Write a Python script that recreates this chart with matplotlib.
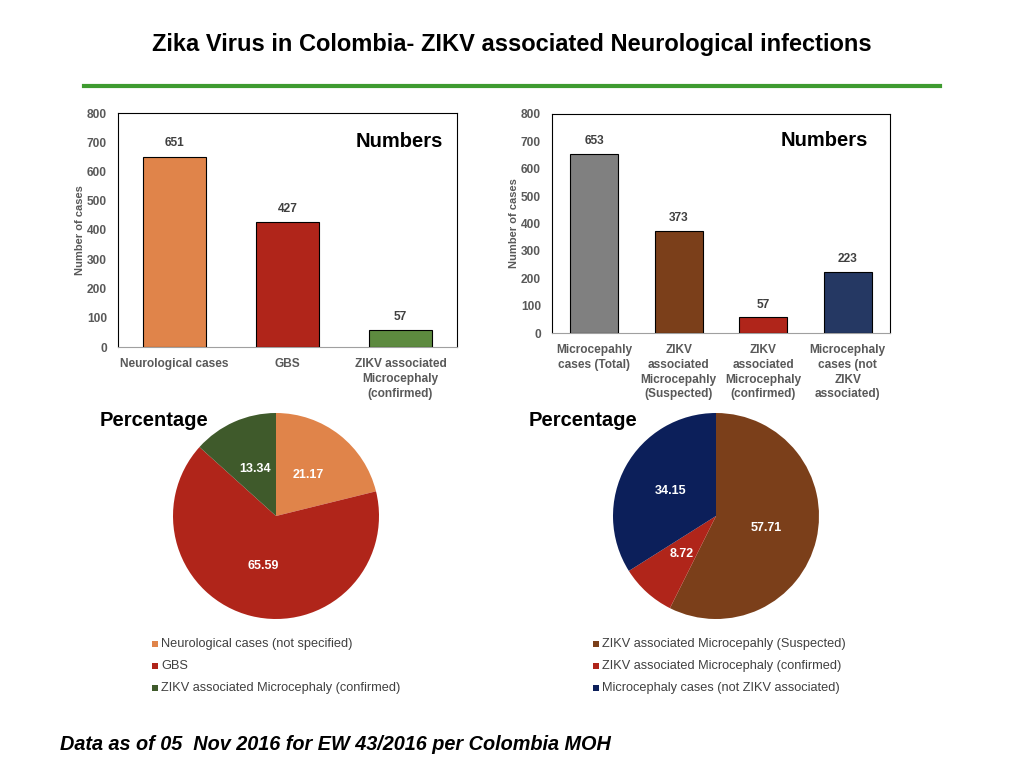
import matplotlib
matplotlib.use("Agg")
import matplotlib.pyplot as plt
from matplotlib.patches import Rectangle
from matplotlib.lines import Line2D

plt.rcParams['font.family'] = ['Liberation Sans', 'DejaVu Sans']

# ---- data ----
left_cats = ["Neurological cases", "GBS", "ZIKV associated\nMicrocephaly\n(confirmed)"]
left_vals = [651, 427, 57]
left_colors = ["#E0844A", "#B0251A", "#5D8A3F"]

right_cats = ["Microcepahly\ncases (Total)", "ZIKV\nassociated\nMicrocepahly\n(Suspected)",
              "ZIKV\nassociated\nMicrocephaly\n(confirmed)", "Microcephaly\ncases (not\nZIKV\nassociated)"]
right_vals = [653, 373, 57, 223]
right_colors = ["#808080", "#7B3F1A", "#B0251A", "#253863"]

left_pie_labels = ["Neurological cases (not specified)", "GBS", "ZIKV associated Microcephaly (confirmed)"]
left_pie_vals = [21.17, 65.59, 13.34]
left_pie_colors = ["#E0844A", "#B0251A", "#3F5A2B"]

right_pie_labels = ["ZIKV associated Microcepahly (Suspected)", "ZIKV associated Microcephaly (confirmed)",
                    "Microcephaly cases (not ZIKV associated)"]
right_pie_vals = [57.71, 8.72, 34.15]
right_pie_colors = ["#7B3F1A", "#B0251A", "#0C1F5A"]

yticks = [0, 100, 200, 300, 400, 500, 600, 700, 800]

W, H = 1024, 768
fig = plt.figure(figsize=(W / 100, H / 100), dpi=100)
fig.patch.set_facecolor("white")


def px_axes(x0, y0, x1, y1):
    return fig.add_axes([x0 / W, 1 - y1 / H, (x1 - x0) / W, (y1 - y0) / H])


GRAY = "#595959"


def bar_chart(ax, cats, vals, colors, width, num_x):
    x = list(range(len(cats)))
    ax.bar(x, vals, width=width, color=colors, edgecolor="black", linewidth=0.8, zorder=3)
    for xi, v in zip(x, vals):
        ax.text(xi, v + 25, str(v), ha="center", va="bottom", fontsize=8.6, fontweight="bold", color="#404040")
    ax.set_xlim(-0.5, len(cats) - 0.5)
    ax.set_ylim(0, 800)
    ax.set_yticks(yticks)
    ax.set_yticklabels([str(t) for t in yticks], fontsize=8.6, fontweight="bold", color=GRAY)
    ax.set_xticks(x)
    ax.set_xticklabels(cats, fontsize=8.6, fontweight="bold", color=GRAY, linespacing=1.3)
    ax.tick_params(axis="x", length=0, pad=8)
    ax.tick_params(axis="y", length=0, pad=8)
    ax.set_ylabel("Number of cases", fontsize=8, fontweight="bold", color=GRAY, labelpad=1)
    for s in ["top", "right", "left"]:
        ax.spines[s].set_color("black")
        ax.spines[s].set_linewidth(0.8)
    ax.spines["bottom"].set_color("#A0A0A0")
    ax.spines["bottom"].set_linewidth(0.8)
    ax.text(num_x, 0.88, "Numbers", transform=ax.transAxes, ha="right", va="center",
            fontsize=14.5, fontweight="bold", color="black")


ax1 = px_axes(118, 113, 457, 347)
bar_chart(ax1, left_cats, left_vals, left_colors, 0.565, 0.96)
ax2 = px_axes(552, 114, 890, 333)
bar_chart(ax2, right_cats, right_vals, right_colors, 0.57, 0.935)


def pie_chart(cx, cy, r, vals, colors):
    ax = px_axes(cx - r, cy - r, cx + r, cy + r)
    wedges, texts = ax.pie(vals, colors=colors, startangle=90, counterclock=False,
                           labels=[f"{v:.2f}" for v in vals], labeldistance=0.5,
                           textprops=dict(color="white", fontsize=9, fontweight="bold"),
                           wedgeprops=dict(linewidth=0))
    for t in texts:
        t.set_ha("center")
        t.set_va("center")
    ax.set_xlim(-1, 1)
    ax.set_ylim(-1, 1)
    ax.axis("off")
    return ax


pie_chart(276, 516, 103, left_pie_vals, left_pie_colors)
pie_chart(716, 516, 103, right_pie_vals, right_pie_colors)

# "Percentage" labels
fig.text(154 / W, 1 - 420 / H, "Percentage", ha="center", va="center", fontsize=14.5, fontweight="bold")
fig.text(583 / W, 1 - 420 / H, "Percentage", ha="center", va="center", fontsize=14.5, fontweight="bold")


def legend(x_sq, labels, colors):
    for i, (lab, col) in enumerate(zip(labels, colors)):
        y = 644 + 22 * i
        fig.patches.append(Rectangle(((x_sq - 3) / W, 1 - (y + 3) / H), 6 / W, 6 / H,
                                     transform=fig.transFigure, facecolor=col, edgecolor="none"))
        fig.text((x_sq + 6) / W, 1 - y / H, lab, ha="left", va="center", fontsize=9.2, color="#404040")


legend(155, left_pie_labels, left_pie_colors)
legend(596, right_pie_labels, right_pie_colors)

# title and rule
fig.text(512 / W, 1 - 45 / H, "Zika Virus in Colombia- ZIKV associated Neurological infections",
         ha="center", va="center", fontsize=17, fontweight="bold")
fig.lines.append(Line2D([84 / W, 940 / W], [1 - 86 / H, 1 - 86 / H], transform=fig.transFigure,
                        color="#3E9B30", linewidth=3))

# footer
fig.text(60 / W, 1 - 744 / H, "Data as of 05  Nov 2016 for EW 43/2016 per Colombia MOH",
         ha="left", va="center", fontsize=14.3, fontweight="bold", fontstyle="italic")

fig.savefig("out.png", dpi=100)
